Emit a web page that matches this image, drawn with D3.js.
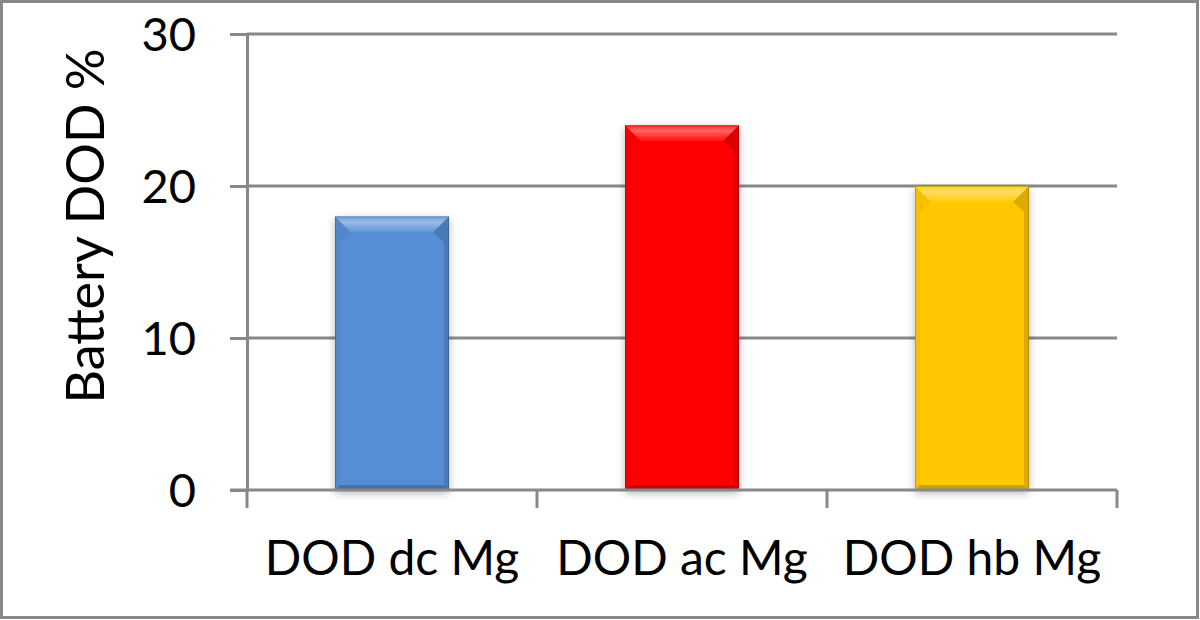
<!DOCTYPE html>
<html>
<head>
<meta charset="utf-8">
<script src="https://cdn.jsdelivr.net/npm/d3@7"></script>
<style>
  body { margin: 0; background: #fff; }
  text { font-family: Lato, "Noto Sans", sans-serif; fill: #000; }
</style>
</head>
<body>
<div id="chart"></div>
<script>
const categories = ['DOD dc Mg', 'DOD ac Mg', 'DOD hb Mg']
const values = [18, 24, 20]
const yTicks = [0, 10, 20, 30]
const barColors = ['#558ed5', '#ff0000', '#ffc800']

const width = 1200
const height = 620
const margin = {top: 34, right: 83, bottom: 130, left: 247}

const svg = d3.select('#chart').append('svg')
    .attr('width', width).attr('height', height)

// outer frame
svg.append('rect')
    .attr('x', 1.5).attr('y', 1.5)
    .attr('width', width - 4).attr('height', height - 4)
    .attr('fill', '#fff').attr('stroke', '#888').attr('stroke-width', 3)

const defs = svg.append('defs')
const shadow = defs.append('filter').attr('id', 'shadow')
    .attr('x', '-20%').attr('y', '-20%').attr('width', '140%').attr('height', '140%')
shadow.append('feGaussianBlur').attr('in', 'SourceAlpha').attr('stdDeviation', 4)
shadow.append('feOffset').attr('dx', 0).attr('dy', 3).attr('result', 'blur')
shadow.append('feComponentTransfer').append('feFuncA').attr('type', 'linear').attr('slope', 0.3)
const merge = shadow.append('feMerge')
merge.append('feMergeNode')
merge.append('feMergeNode').attr('in', 'SourceGraphic')

const topGrad = defs.append('linearGradient').attr('id', 'topGrad')
    .attr('x1', 0).attr('y1', 0).attr('x2', 0).attr('y2', 1)
topGrad.append('stop').attr('offset', 0).attr('stop-color', '#fff').attr('stop-opacity', 0.15)
topGrad.append('stop').attr('offset', 0.35).attr('stop-color', '#fff').attr('stop-opacity', 0.4)
topGrad.append('stop').attr('offset', 1).attr('stop-color', '#fff').attr('stop-opacity', 0.05)

const x = d3.scaleBand()
    .domain(categories)
    .range([margin.left, width - margin.right])
    .paddingInner(0.607).paddingOuter(0.3035)

const y = d3.scaleLinear()
    .domain([0, 30])
    .range([height - margin.bottom, margin.top])

const plot = svg.append('g')

// gridlines
plot.selectAll('.grid').data(yTicks.filter(d => d > 0)).enter().append('line')
    .attr('class', 'grid')
    .attr('x1', margin.left).attr('x2', width - margin.right)
    .attr('y1', d => y(d)).attr('y2', d => y(d))
    .attr('stroke', '#888').attr('stroke-width', 3)

// y axis
const yAxis = plot.append('g')
    .attr('transform', `translate(${margin.left},0)`)
    .call(d3.axisLeft(y).tickValues(yTicks).tickSize(17).tickPadding(34).tickFormat(d3.format('d')))
yAxis.select('.domain').attr('stroke', '#888').attr('stroke-width', 3)
yAxis.selectAll('.tick line').attr('stroke', '#888').attr('stroke-width', 3)
yAxis.selectAll('.tick text').attr('font-size', 47).attr('font-family', 'Lato, sans-serif')
    .attr('dy', '0.36em').attr('fill', '#000')

// bars
const bevel = 16
const bars = plot.selectAll('.bar').data(values).enter().append('g')
    .attr('class', 'bar')
    .attr('filter', 'url(#shadow)')

bars.append('rect')
    .attr('x', (d, i) => x(categories[i]))
    .attr('y', d => y(d))
    .attr('width', x.bandwidth())
    .attr('height', d => y(0) - y(d))
    .attr('fill', (d, i) => barColors[i])

const facet = (d, i, side) => {
    const x0 = x(categories[i]), x1 = x0 + x.bandwidth()
    const y0 = y(d), y1 = y(0)
    const b = bevel, s = 5
    if (side === 'top') return [[x0, y0], [x1, y0], [x1 - b, y0 + b], [x0 + b, y0 + b]]
    if (side === 'left') return [[x0, y0], [x0 + b, y0 + b], [x0 + s, y0 + b + 10], [x0 + s, y1 - s], [x0, y1]]
    if (side === 'right') return [[x1, y0], [x1 - b, y0 + b], [x1 - s, y0 + b + 10], [x1 - s, y1 - s], [x1, y1]]
    return [[x0, y1], [x0 + s, y1 - s], [x1 - s, y1 - s], [x1, y1]]
}
const facetStyle = {top: ['url(#topGrad)', 1], left: ['#000', 0.04], right: ['#000', 0.14], bottom: ['#000', 0.2]}
Object.keys(facetStyle).forEach(side => {
    bars.append('path')
        .attr('d', (d, i) => d3.line()(facet(d, i, side)) + 'Z')
        .attr('fill', facetStyle[side][0])
        .attr('fill-opacity', facetStyle[side][1])
})
bars.append('rect')
    .attr('x', (d, i) => x(categories[i]) + 0.5)
    .attr('y', d => y(d) + 0.5)
    .attr('width', x.bandwidth() - 1)
    .attr('height', d => y(0) - y(d) - 1)
    .attr('fill', 'none').attr('stroke', '#000').attr('stroke-opacity', 0.2)

// x axis
const xAxis = plot.append('g')
    .attr('transform', `translate(0,${y(0)})`)
    .call(d3.axisBottom(x).tickSize(0).tickPadding(51))
xAxis.select('.domain').attr('stroke', '#888').attr('stroke-width', 3)
    .attr('d', `M${margin.left - 17},0H${width - margin.right}`)
xAxis.selectAll('.tick text').attr('font-size', 48).attr('font-family', 'Lato, sans-serif').attr('fill', '#000')
const edges = categories.map(c => x(c) - x.step() * x.paddingInner() / 2)
edges.push(width - margin.right)
edges[0] = margin.left
xAxis.selectAll('.sep').data(edges).enter().append('line')
    .attr('x1', d => d).attr('x2', d => d)
    .attr('y1', 0).attr('y2', 18)
    .attr('stroke', '#888').attr('stroke-width', 3)

// y title
svg.append('text')
    .attr('transform', `translate(104,226) rotate(-90)`)
    .attr('text-anchor', 'middle')
    .attr('font-size', 52)
    .text('Battery DOD %')
</script>
</body>
</html>
